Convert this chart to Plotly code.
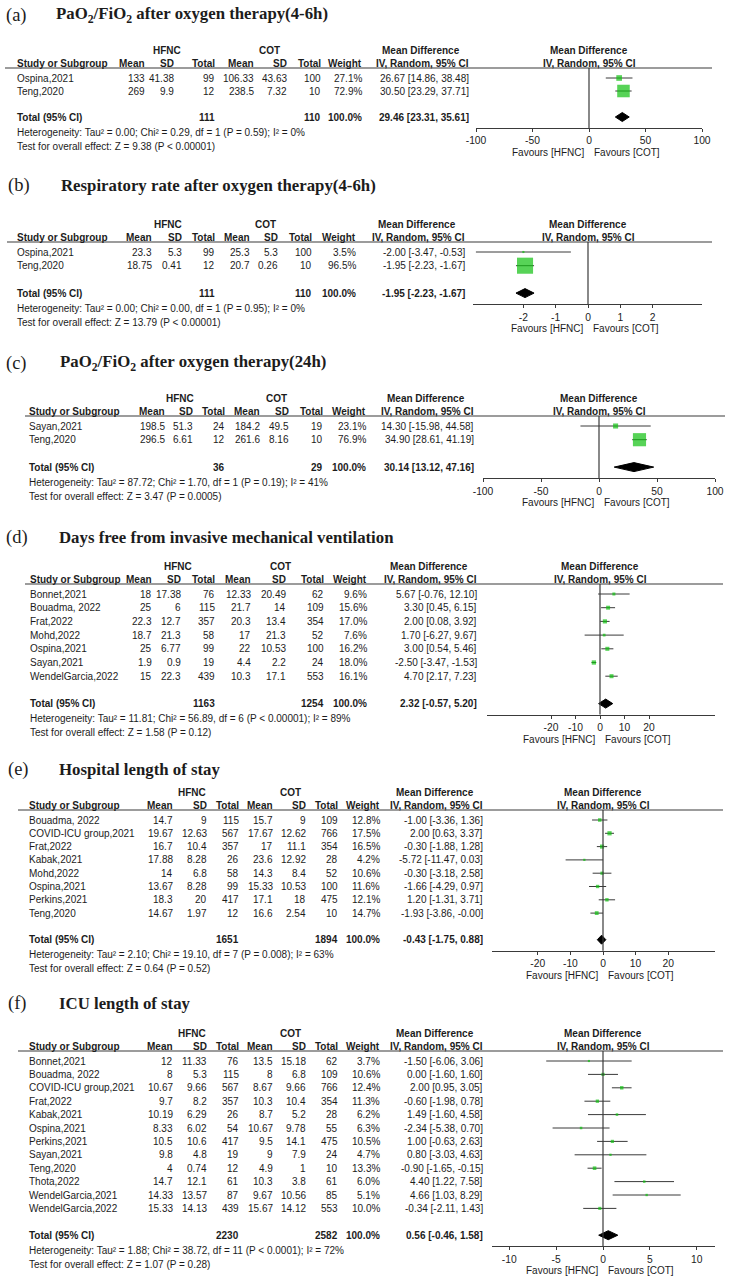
import plotly.graph_objects as go

W, H = 732, 1280

# ---------------- data ----------------
# (a) PaO2/FiO2 after oxygen therapy (4-6h)
a_study = ["Ospina,2021", "Teng,2020"]
a_h_mean = [133, 269]
a_h_sd = [41.38, 9.9]
a_h_n = [99, 12]
a_c_mean = [106.33, 238.5]
a_c_sd = [43.63, 7.32]
a_c_n = [100, 10]
a_weight = [27.1, 72.9]
a_md = [26.67, 30.50]
a_lo = [14.86, 23.29]
a_hi = [38.48, 37.71]
a_total = [111, 110, 29.46, 23.31, 35.61]
a_het = "Heterogeneity: Tau² = 0.00; Chi² = 0.29, df = 1 (P = 0.59); I² = 0%"
a_test = "Test for overall effect: Z = 9.38 (P < 0.00001)"
a_ticks = [-100, -50, 0, 50, 100]

# (b) Respiratory rate after oxygen therapy (4-6h)
b_study = ["Ospina,2021", "Teng,2020"]
b_h_mean = [23.3, 18.75]
b_h_sd = [5.3, 0.41]
b_h_n = [99, 12]
b_c_mean = [25.3, 20.7]
b_c_sd = [5.3, 0.26]
b_c_n = [100, 10]
b_weight = [3.5, 96.5]
b_md = [-2.00, -1.95]
b_lo = [-3.47, -2.23]
b_hi = [-0.53, -1.67]
b_total = [111, 110, -1.95, -2.23, -1.67]
b_het = "Heterogeneity: Tau² = 0.00; Chi² = 0.00, df = 1 (P = 0.95); I² = 0%"
b_test = "Test for overall effect: Z = 13.79 (P < 0.00001)"
b_ticks = [-2, -1, 0, 1, 2]

# (c) PaO2/FiO2 after oxygen therapy (24h)
c_study = ["Sayan,2021", "Teng,2020"]
c_h_mean = [198.5, 296.5]
c_h_sd = [51.3, 6.61]
c_h_n = [24, 12]
c_c_mean = [184.2, 261.6]
c_c_sd = [49.5, 8.16]
c_c_n = [19, 10]
c_weight = [23.1, 76.9]
c_md = [14.30, 34.90]
c_lo = [-15.98, 28.61]
c_hi = [44.58, 41.19]
c_total = [36, 29, 30.14, 13.12, 47.16]
c_het = "Heterogeneity: Tau² = 87.72; Chi² = 1.70, df = 1 (P = 0.19); I² = 41%"
c_test = "Test for overall effect: Z = 3.47 (P = 0.0005)"
c_ticks = [-100, -50, 0, 50, 100]

# (d) Days free from invasive mechanical ventilation
d_study = ["Bonnet,2021", "Bouadma, 2022", "Frat,2022", "Mohd,2022",
           "Ospina,2021", "Sayan,2021", "WendelGarcia,2022"]
d_h_mean = [18, 25, 22.3, 18.7, 25, 1.9, 15]
d_h_sd = [17.38, 6, 12.7, 21.3, 6.77, 0.9, 22.3]
d_h_n = [76, 115, 357, 58, 99, 19, 439]
d_c_mean = [12.33, 21.7, 20.3, 17, 22, 4.4, 10.3]
d_c_sd = [20.49, 14, 13.4, 21.3, 10.53, 2.2, 17.1]
d_c_n = [62, 109, 354, 52, 100, 24, 553]
d_weight = [9.6, 15.6, 17.0, 7.6, 16.2, 18.0, 16.1]
d_md = [5.67, 3.30, 2.00, 1.70, 3.00, -2.50, 4.70]
d_lo = [-0.76, 0.45, 0.08, -6.27, 0.54, -3.47, 2.17]
d_hi = [12.10, 6.15, 3.92, 9.67, 5.46, -1.53, 7.23]
d_total = [1163, 1254, 2.32, -0.57, 5.20]
d_het = "Heterogeneity: Tau² = 11.81; Chi² = 56.89, df = 6 (P < 0.00001); I² = 89%"
d_test = "Test for overall effect: Z = 1.58 (P = 0.12)"
d_ticks = [-20, -10, 0, 10, 20]

# (e) Hospital length of stay
e_study = ["Bouadma, 2022", "COVID-ICU group,2021", "Frat,2022", "Kabak,2021",
           "Mohd,2022", "Ospina,2021", "Perkins,2021", "Teng,2020"]
e_h_mean = [14.7, 19.67, 16.7, 17.88, 14, 13.67, 18.3, 14.67]
e_h_sd = [9, 12.63, 10.4, 8.28, 6.8, 8.28, 20, 1.97]
e_h_n = [115, 567, 357, 26, 58, 99, 417, 12]
e_c_mean = [15.7, 17.67, 17, 23.6, 14.3, 15.33, 17.1, 16.6]
e_c_sd = [9, 12.62, 11.1, 12.92, 8.4, 10.53, 18, 2.54]
e_c_n = [109, 766, 354, 28, 52, 100, 475, 10]
e_weight = [12.8, 17.5, 16.5, 4.2, 10.6, 11.6, 12.1, 14.7]
e_md = [-1.00, 2.00, -0.30, -5.72, -0.30, -1.66, 1.20, -1.93]
e_lo = [-3.36, 0.63, -1.88, -11.47, -3.18, -4.29, -1.31, -3.86]
e_hi = [1.36, 3.37, 1.28, 0.03, 2.58, 0.97, 3.71, -0.0]
e_total = [1651, 1894, -0.43, -1.75, 0.88]
e_het = "Heterogeneity: Tau² = 2.10; Chi² = 19.10, df = 7 (P = 0.008); I² = 63%"
e_test = "Test for overall effect: Z = 0.64 (P = 0.52)"
e_ticks = [-20, -10, 0, 10, 20]

# (f) ICU length of stay
f_study = ["Bonnet,2021", "Bouadma, 2022", "COVID-ICU group,2021", "Frat,2022",
           "Kabak,2021", "Ospina,2021", "Perkins,2021", "Sayan,2021", "Teng,2020",
           "Thota,2022", "WendelGarcia,2021", "WendelGarcia,2022"]
f_h_mean = [12, 8, 10.67, 9.7, 10.19, 8.33, 10.5, 9.8, 4, 14.7, 14.33, 15.33]
f_h_sd = [11.33, 5.3, 9.66, 8.2, 6.29, 6.02, 10.6, 4.8, 0.74, 12.1, 13.57, 14.13]
f_h_n = [76, 115, 567, 357, 26, 54, 417, 19, 12, 61, 87, 439]
f_c_mean = [13.5, 8, 8.67, 10.3, 8.7, 10.67, 9.5, 9, 4.9, 10.3, 9.67, 15.67]
f_c_sd = [15.18, 6.8, 9.66, 10.4, 5.2, 9.78, 14.1, 7.9, 1, 3.8, 10.56, 14.12]
f_c_n = [62, 109, 766, 354, 28, 55, 475, 24, 10, 61, 85, 553]
f_weight = [3.7, 10.6, 12.4, 11.3, 6.2, 6.3, 10.5, 4.7, 13.3, 6.0, 5.1, 10.0]
f_md = [-1.50, 0.00, 2.00, -0.60, 1.49, -2.34, 1.00, 0.80, -0.90, 4.40, 4.66, -0.34]
f_lo = [-6.06, -1.60, 0.95, -1.98, -1.60, -5.38, -0.63, -3.03, -1.65, 1.22, 1.03, -2.11]
f_hi = [3.06, 1.60, 3.05, 0.78, 4.58, 0.70, 2.63, 4.63, -0.15, 7.58, 8.29, 1.43]
f_total = [2230, 2582, 0.56, -0.46, 1.58]
f_het = "Heterogeneity: Tau² = 1.88; Chi² = 38.72, df = 11 (P < 0.0001); I² = 72%"
f_test = "Test for overall effect: Z = 1.07 (P = 0.28)"
f_ticks = [-10, -5, 0, 5, 10]

labels = ["a", "b", "c", "d", "e", "f"]
titles = ["PaO<sub>2</sub>/FiO<sub>2</sub> after oxygen therapy(4-6h)",
          "Respiratory rate after oxygen therapy(4-6h)",
          "PaO<sub>2</sub>/FiO<sub>2</sub> after oxygen therapy(24h)",
          "Days free from invasive mechanical ventilation",
          "Hospital length of stay",
          "ICU length of stay"]
col_headers = ["Mean", "SD", "Total", "Mean", "SD", "Total", "Weight", "IV, Random, 95% CI"]

PANEL_DATA = [
    (a_study, a_h_mean, a_h_sd, a_h_n, a_c_mean, a_c_sd, a_c_n, a_weight, a_md, a_lo, a_hi, a_total, a_het, a_test, a_ticks),
    (b_study, b_h_mean, b_h_sd, b_h_n, b_c_mean, b_c_sd, b_c_n, b_weight, b_md, b_lo, b_hi, b_total, b_het, b_test, b_ticks),
    (c_study, c_h_mean, c_h_sd, c_h_n, c_c_mean, c_c_sd, c_c_n, c_weight, c_md, c_lo, c_hi, c_total, c_het, c_test, c_ticks),
    (d_study, d_h_mean, d_h_sd, d_h_n, d_c_mean, d_c_sd, d_c_n, d_weight, d_md, d_lo, d_hi, d_total, d_het, d_test, d_ticks),
    (e_study, e_h_mean, e_h_sd, e_h_n, e_c_mean, e_c_sd, e_c_n, e_weight, e_md, e_lo, e_hi, e_total, e_het, e_test, e_ticks),
    (f_study, f_h_mean, f_h_sd, f_h_n, f_c_mean, f_c_sd, f_c_n, f_weight, f_md, f_lo, f_hi, f_total, f_het, f_test, f_ticks),
]

# ---------------- layout geometry (pixels) ----------------
GEOM = [
    dict(ty=15, lx=5, tx=55, h1=50, step=13.0, study_x=16, hfnc_c=167, cot_c=269,
         cols=[146, 175, 216, 255, 288, 322, 363, 470], line=(5, 712),
         zero=589, scale=1.13, axl=476, axr=702),
    dict(ty=185, lx=7, tx=60, h1=224, step=13.7, study_x=16, hfnc_c=168, cot_c=265,
         cols=[153, 183, 216, 251, 279, 313, 357, 466], line=(7, 712),
         zero=588, scale=32.3, axl=473, axr=702),
    dict(ty=363, lx=5, tx=59, h1=398, step=13.7, study_x=28, hfnc_c=180, cot_c=276,
         cols=[166, 194, 226, 261, 290, 324, 367, 475], line=(25, 725),
         zero=599, scale=1.16, axl=483, axr=715),
    dict(ty=537, lx=5, tx=58, h1=566, step=13.7, study_x=29, hfnc_c=178, cot_c=280,
         cols=[153, 182, 216, 252, 287, 325, 368, 478], line=(25, 723),
         zero=600, scale=2.45, axl=487, axr=715),
    dict(ty=769, lx=7, tx=58, h1=792, step=13.3, study_x=28, hfnc_c=192, cot_c=290,
         cols=[174, 208, 240, 274, 307, 339, 381, 484], line=(18, 723),
         zero=603, scale=3.26, axl=492, axr=715),
    dict(ty=1003, lx=7, tx=58, h1=1033, step=13.4, study_x=28, hfnc_c=192, cot_c=290,
         cols=[174, 208, 240, 274, 307, 339, 381, 484], line=(18, 723),
         zero=603, scale=9.37, axl=492, axr=715),
]

TXT = "#1c1c1c"
LINE = "#3a3a3a"
GREEN = "#10c010"
SANS = "Liberation Sans, Arial, sans-serif"
SERIF = "Liberation Serif, Times New Roman, serif"
FS = 10

annotations = []
shapes = []
fig = go.Figure()


def ann(x, y, text, anchor="right", bold=False, size=FS, family=SANS, xref="paper", xshift=0):
    if bold:
        text = "<b>" + text + "</b>"
    annotations.append(dict(
        x=(x / W) if xref == "paper" else x, y=y, xref=xref, yref="y",
        text=text, xanchor=anchor, yanchor="middle", showarrow=False,
        xshift=xshift, borderpad=0,
        font=dict(family=family, size=size, color=TXT)))


def num(v):
    return str(v)


for i, (pdata, g) in enumerate(zip(PANEL_DATA, GEOM), start=1):
    (study, hm, hs, hn, cm, cs, cn, wt, md, lo, hi, tot, het, test, ticks) = pdata
    xa = "x" if i == 1 else "x%d" % i
    xa_name = "xaxis" if i == 1 else "xaxis%d" % i
    n = len(study)
    h1 = g["h1"]
    step = g["step"]
    h2 = h1 + 13.5
    line_y = h1 + 18
    rows = [h1 + 28 + k * step for k in range(n)]
    ytot = rows[-1] + 2 * step
    yhet = ytot + 15
    ytest = yhet + 14
    yax = ytot + 11
    cols = g["cols"]

    # titles
    ann(g["lx"], g["ty"], "(%s)" % labels[i - 1], anchor="left", size=18.5, family=SERIF)
    ann(g["tx"], g["ty"], titles[i - 1], anchor="left", bold=True, size=16.8, family=SERIF)

    # header rows
    ann(g["hfnc_c"], h1, "HFNC", anchor="center", bold=True)
    ann(g["cot_c"], h1, "COT", anchor="center", bold=True)
    ann(cols[7] - 49, h1, "Mean Difference", anchor="center", bold=True)
    ann(g["study_x"], h2, "Study or Subgroup", anchor="left", bold=True)
    for cx, lab in zip(cols, col_headers):
        ann(cx, h2, lab, anchor="right", bold=True)
    ann(0, h1, "Mean Difference", anchor="center", bold=True, xref=xa)
    ann(0, h2, "IV, Random, 95% CI", anchor="center", bold=True, xref=xa)

    shapes.append(dict(type="line", xref="paper", yref="y",
                       x0=g["line"][0] / W, x1=g["line"][1] / W, y0=line_y, y1=line_y,
                       line=dict(color=LINE, width=1.2)))

    # study rows
    for k in range(n):
        y = rows[k]
        ann(g["study_x"], y, study[k], anchor="left")
        vals = [num(hm[k]), num(hs[k]), num(hn[k]), num(cm[k]), num(cs[k]), num(cn[k]),
                "%.1f%%" % wt[k], "%.2f [%.2f, %.2f]" % (md[k], lo[k], hi[k])]
        for cx, v in zip(cols, vals):
            ann(cx, y, v, anchor="right")

    # total rows
    ann(g["study_x"], ytot, "Total (95% CI)", anchor="left", bold=True)
    ann(cols[2], ytot, str(tot[0]), bold=True)
    ann(cols[5], ytot, str(tot[1]), bold=True)
    ann(cols[6], ytot, "100.0%", bold=True)
    ann(cols[7], ytot, "%.2f [%.2f, %.2f]" % (tot[2], tot[3], tot[4]), bold=True)
    ann(g["study_x"], yhet, het, anchor="left")
    ann(g["study_x"], ytest, test, anchor="left")

    # forest marks
    fig.add_trace(go.Scatter(
        x=md, y=rows, mode="markers", xaxis=xa, yaxis="y", showlegend=False,
        hoverinfo="skip", cliponaxis=False,
        marker=dict(symbol="square", color=GREEN, line=dict(width=0),
                    size=[1.6 + 0.15 * w for w in wt]),
        error_x=dict(type="data", symmetric=False,
                     array=[h - m for h, m in zip(hi, md)],
                     arrayminus=[m - l for m, l in zip(md, lo)],
                     color=LINE, thickness=1, width=0)))
    fig.add_trace(go.Scatter(
        x=[tot[3], tot[2], tot[4], tot[2], tot[3]],
        y=[ytot, ytot - 4.5, ytot, ytot + 4.5, ytot],
        mode="lines", fill="toself", fillcolor="black",
        line=dict(color="black", width=1), xaxis=xa, yaxis="y",
        showlegend=False, hoverinfo="skip"))

    # zero line
    shapes.append(dict(type="line", xref=xa, yref="y", x0=0, x1=0, y0=line_y, y1=yax,
                       line=dict(color=LINE, width=1.2)))

    # favours
    ann(0, yax + 24.5, "Favours [HFNC]", anchor="right", xref=xa, xshift=-4, size=10)
    ann(0, yax + 24.5, "Favours [COT]", anchor="left", xref=xa, xshift=4, size=10)

    rng = [(g["axl"] - g["zero"]) / g["scale"], (g["axr"] - g["zero"]) / g["scale"]]
    fig.layout[xa_name] = dict(
        domain=[g["axl"] / W, g["axr"] / W], range=rng, anchor="free",
        position=1 - yax / H, showline=True, linecolor=LINE, linewidth=1.2,
        ticks="outside", ticklen=3, tickwidth=1.2, tickcolor=LINE,
        tickvals=ticks, ticktext=[str(t) for t in ticks],
        tickfont=dict(family=SANS, size=10.3, color=TXT), automargin=False,
        showgrid=False, zeroline=False, fixedrange=True)

fig.update_layout(
    width=W, height=H, autosize=False,
    margin=dict(l=0, r=0, t=0, b=0, pad=0, autoexpand=False),
    paper_bgcolor="white", plot_bgcolor="rgba(0,0,0,0)",
    yaxis=dict(range=[H, 0], domain=[0, 1], visible=False, fixedrange=True, automargin=False),
    annotations=annotations, shapes=shapes, showlegend=False)

fig.write_html("out.html", config={"displayModeBar": False},
               post_script="document.body.style.margin='0';document.body.style.overflow='hidden';")
